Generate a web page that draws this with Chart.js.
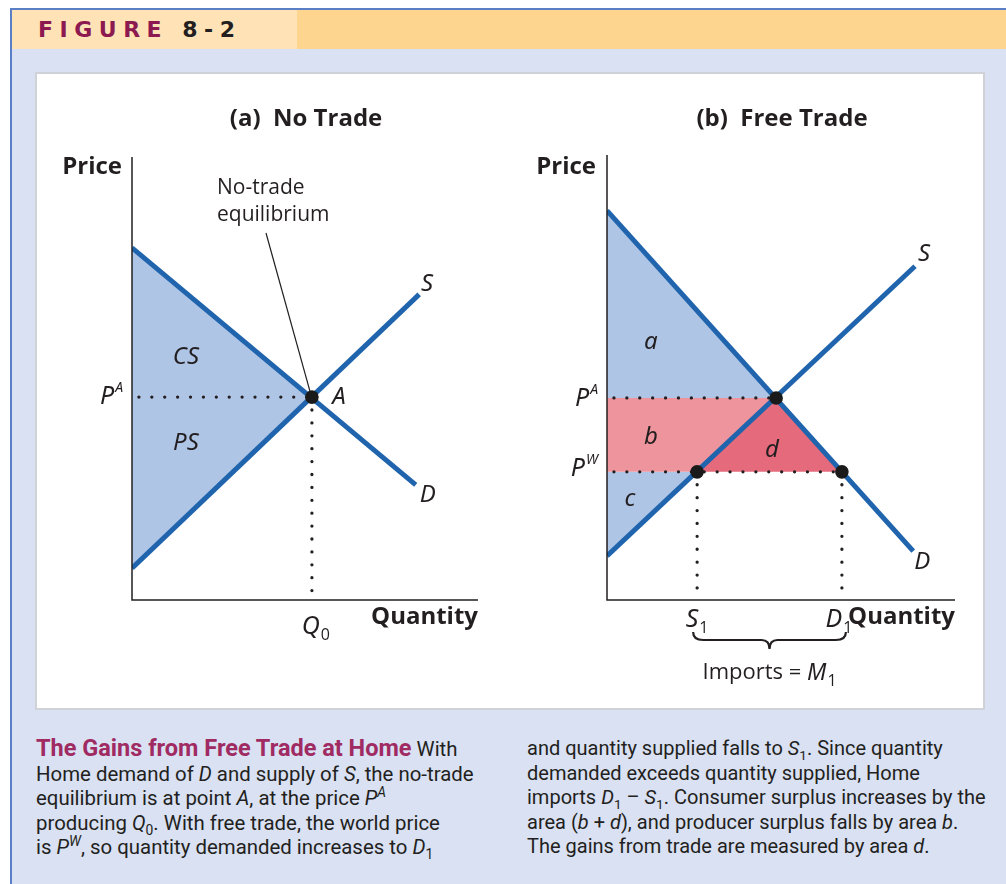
<!DOCTYPE html>
<html>
<head>
<meta charset="utf-8">
<script src="https://cdn.jsdelivr.net/npm/chart.js@4.4.1/dist/chart.umd.min.js"></script>
<style>
  body { margin: 0; width: 1006px; height: 884px; position: relative; overflow: hidden; background: #fff; font-family: Roboto, sans-serif; }
  #frame { position: absolute; left: 10px; top: 8px; width: 996px; height: 876px; background: #d9e1f3;
           border-left: 2px solid #5b7fc7; border-top: 2px solid #5b7fc7; box-sizing: border-box; }
  #head { position: absolute; left: 12px; top: 10px; width: 994px; height: 39px; background: #fdd58e; }
  #headL { position: absolute; left: 0; top: 0; width: 285px; height: 39px; background: #ffe3b7;
           font: bold 22px "DejaVu Sans", sans-serif; letter-spacing: 6.5px; line-height: 40px; padding-left: 26px; box-sizing: border-box; }
  #headL .fig { color: #8c1a50; }
  #headL .num { color: #231f20; }
  #panel { position: absolute; left: 35px; top: 72px; width: 950px; height: 638px; background: #fff;
           border: 2px solid #cfd3d8; box-sizing: border-box; }
  canvas { position: absolute; }
  #chartA { left: 36px; top: 73px; }
  #chartB { left: 506px; top: 73px; }
  .cap { position: absolute; top: 736px; font-size: 20.4px; line-height: 24.5px; color: #231f20; white-space: nowrap; }
  .cap b { color: #a02a62; font-size: 23.5px; }
  .cap sup, .cap sub { font-size: 0.68em; line-height: 0; }
</style>
</head>
<body>
<div id="frame"></div>
<div id="head"><div id="headL"><span class="fig">FIGURE</span> <span class="num">8-2</span></div></div>
<div id="panel"></div>
<canvas id="chartA" width="470" height="635"></canvas>
<canvas id="chartB" width="478" height="635"></canvas>

<div class="cap" style="left:36px">
<b>The Gains from Free Trade at Home</b> With<br>
Home demand of <i>D</i> and supply of <i>S</i>, the no-trade<br>
equilibrium is at point <i>A</i>, at the price <i>P<sup>A</sup></i><br>
producing <i>Q</i><sub>0</sub>. With free trade, the world price<br>
is <i>P<sup>W</sup></i>, so quantity demanded increases to <i>D</i><sub>1</sub>
</div>
<div class="cap" style="left:527px; font-size:20px">
and quantity supplied falls to <i>S</i><sub>1</sub>. Since quantity<br>
demanded exceeds quantity supplied, Home<br>
imports <i>D</i><sub>1</sub> – <i>S</i><sub>1</sub>. Consumer surplus increases by the<br>
area (<i>b</i> + <i>d</i>), and producer surplus falls by area <i>b</i>.<br>
The gains from trade are measured by area <i>d</i>.
</div>

<script>
// panel (a) no trade: curve end points and the equilibrium
const demandA = [{x: 0, y: 7.95}, {x: 8.2, y: 2.6}];
const supplyA = [{x: 0, y: 0.72}, {x: 8.3, y: 6.9}];
const eqA = {x: 5.2, y: 4.58};

// panel (b) free trade
const demandB = [{x: 0, y: 8.75}, {x: 8.8, y: 1.1}];
const supplyB = [{x: 0, y: 0.99}, {x: 8.85, y: 7.5}];
const priceAut = 4.54;   // P^A
const priceWorld = 2.88; // P^W
const qAut = 4.86;
const qS1 = 2.59;
const qD1 = 6.75;

const BLUE = '#1f64ad';
const INK = '#231f20';
const FONT = '"Open Sans", sans-serif';
const IFONT = '"Noto Sans", sans-serif';
const ITAL = 'italic 24px ' + IFONT;

const curve = (data) => ({
    data, borderColor: BLUE, borderWidth: 5, pointRadius: 0, borderCapStyle: 'butt', fill: false, order: 2
});
const area = (data, color) => ({
    data, borderWidth: 0, pointRadius: 0, backgroundColor: color, fill: 'shape', order: 4
});
const dotted = (data) => ({
    data, borderColor: INK, borderWidth: 3.3, borderDash: [0, 12.9], borderCapStyle: 'round',
    pointRadius: 0, fill: false, order: 3
});
const dots = (data) => ({
    data, showLine: false, pointRadius: 6.8, pointBackgroundColor: '#1a1a1a', pointBorderWidth: 0, order: 1
});

// text helpers
function txt(ctx, s, x, y, font, align) {
    ctx.font = font;
    ctx.textAlign = align || 'center';
    ctx.textBaseline = 'middle';
    ctx.fillText(s, x, y);
}
// base letter with a small raised (sup) or lowered (sub) part
function idx(ctx, base, small, x, y, sup, align) {
    const bf = 'italic 25px ' + IFONT;
    const sf = sup ? 'italic 14px ' + IFONT : '16px ' + FONT;
    ctx.font = bf; const bw = ctx.measureText(base).width;
    ctx.font = sf; const sw = ctx.measureText(small).width;
    const w = bw + sw + 1;
    let x0 = x - w / 2;
    if (align === 'right') x0 = x - w;
    if (align === 'left') x0 = x;
    txt(ctx, base, x0, y, bf, 'left');
    txt(ctx, small, x0 + bw + 1, sup ? y - 9 : y + 8, sf, 'left');
}
function axes(ctx, ca) {
    ctx.strokeStyle = INK;
    ctx.lineWidth = 1.5;
    ctx.beginPath();
    ctx.moveTo(ca.left, ca.top);
    ctx.lineTo(ca.left, ca.bottom);
    ctx.lineTo(ca.right, ca.bottom);
    ctx.stroke();
}

const labelsA = {
    id: 'labelsA',
    afterDraw(chart) {
        const { ctx, chartArea: ca, scales: { x, y } } = chart;
        ctx.save();
        axes(ctx, ca);
        ctx.fillStyle = INK;
        const bold = 'bold 24px ' + FONT;
        txt(ctx, '(a)  No Trade', ca.left + 174, ca.top - 38, bold);
        txt(ctx, 'Price', ca.left - 10, ca.top + 10, bold, 'right');
        txt(ctx, 'Quantity', ca.right, ca.bottom + 17, bold, 'right');

        const xA = x.getPixelForValue(eqA.x), yA = y.getPixelForValue(eqA.y);
        idx(ctx, 'P', 'A', ca.left - 9, yA, true, 'right');
        txt(ctx, 'A', xA + 27, yA, ITAL);
        idx(ctx, 'Q', '0', xA + 4, ca.bottom + 27, false);

        const s1 = supplyA[1], d1 = demandA[1];
        txt(ctx, 'S', x.getPixelForValue(s1.x) + 8, y.getPixelForValue(s1.y) - 10, ITAL);
        txt(ctx, 'D', x.getPixelForValue(d1.x) + 12, y.getPixelForValue(d1.y) + 10, ITAL);
        txt(ctx, 'CS', x.getPixelForValue(1.56), y.getPixelForValue(5.49), ITAL);
        txt(ctx, 'PS', x.getPixelForValue(1.56), y.getPixelForValue(3.54), ITAL);

        txt(ctx, 'No-trade', ca.left + 85, ca.top + 31, '21px ' + FONT, 'left');
        txt(ctx, 'equilibrium', ca.left + 85, ca.top + 58, '21px ' + FONT, 'left');
        ctx.strokeStyle = INK;
        ctx.lineWidth = 1.2;
        ctx.beginPath();
        ctx.moveTo(ca.left + 134, ca.top + 76);
        ctx.lineTo(xA - 2, yA - 6);
        ctx.stroke();
        ctx.restore();
    }
};

const labelsB = {
    id: 'labelsB',
    afterDraw(chart) {
        const { ctx, chartArea: ca, scales: { x, y } } = chart;
        ctx.save();
        axes(ctx, ca);
        ctx.fillStyle = INK;
        const bold = 'bold 24px ' + FONT;
        txt(ctx, '(b)  Free Trade', ca.left + 175, ca.top - 36, bold);
        txt(ctx, 'Price', ca.left - 11, ca.top + 12, bold, 'right');
        txt(ctx, 'Quantity', ca.right, ca.bottom + 17, bold, 'right');

        idx(ctx, 'P', 'A', ca.left - 9, y.getPixelForValue(priceAut) + 1, true, 'right');
        idx(ctx, 'P', 'W', ca.left - 9, y.getPixelForValue(priceWorld) - 3, true, 'right');

        const s1 = supplyB[1], d1 = demandB[1];
        txt(ctx, 'S', x.getPixelForValue(s1.x) + 9, y.getPixelForValue(s1.y) - 12, ITAL);
        txt(ctx, 'D', x.getPixelForValue(d1.x) + 9, y.getPixelForValue(d1.y) + 11, ITAL);
        txt(ctx, 'a', x.getPixelForValue(1.26), y.getPixelForValue(5.8), ITAL);
        txt(ctx, 'b', x.getPixelForValue(1.26), y.getPixelForValue(3.66), ITAL);
        txt(ctx, 'c', x.getPixelForValue(0.66), y.getPixelForValue(2.27), ITAL);
        txt(ctx, 'd', x.getPixelForValue(4.74), y.getPixelForValue(3.37), ITAL);

        const xs = x.getPixelForValue(qS1), xd = x.getPixelForValue(qD1);
        idx(ctx, 'S', '1', xs, ca.bottom + 20, false);
        idx(ctx, 'D', '1', xd - 3, ca.bottom + 20, false);

        // brace under S1..D1
        const l = xs - 4, r = xd + 4, m = (l + r) / 2, t = ca.bottom + 32, h = 8;
        ctx.strokeStyle = INK;
        ctx.lineWidth = 2.2;
        ctx.beginPath();
        ctx.moveTo(l, t);
        ctx.quadraticCurveTo(l, t + h, l + 10, t + h);
        ctx.lineTo(m - 8, t + h);
        ctx.quadraticCurveTo(m, t + h, m, t + h + 9);
        ctx.quadraticCurveTo(m, t + h, m + 8, t + h);
        ctx.lineTo(r - 10, t + h);
        ctx.quadraticCurveTo(r, t + h, r, t);
        ctx.stroke();

        ctx.font = '22px ' + FONT;
        const w1 = ctx.measureText('Imports = ').width;
        ctx.font = 'italic 23px ' + IFONT;
        const w2 = ctx.measureText('M').width;
        const x0 = m - (w1 + w2 + 10) / 2, ty = ca.bottom + 73;
        txt(ctx, 'Imports = ', x0, ty, '22px ' + FONT, 'left');
        txt(ctx, 'M', x0 + w1, ty, 'italic 23px ' + IFONT, 'left');
        txt(ctx, '1', x0 + w1 + w2 + 1, ty + 8, '16px ' + FONT, 'left');
        ctx.restore();
    }
};

const baseOptions = (padding) => ({
    responsive: false,
    animation: false,
    layout: { padding },
    scales: {
        x: { type: 'linear', min: 0, max: 10, display: false },
        y: { type: 'linear', min: 0, max: 10, display: false }
    },
    plugins: { legend: { display: false }, tooltip: { enabled: false } },
    elements: { line: { tension: 0 } }
});

new Chart(document.getElementById('chartA'), {
    type: 'line',
    data: {
        datasets: [
            dots([eqA]),
            curve(demandA),
            curve(supplyA),
            dotted([{x: 0.2, y: eqA.y}, {x: eqA.x, y: eqA.y}]),
            dotted([{x: eqA.x, y: eqA.y}, {x: eqA.x, y: 0}]),
            area([demandA[0], eqA, supplyA[0]], '#afc5e6')
        ]
    },
    options: baseOptions({ left: 96, top: 84, right: 28, bottom: 108 }),
    plugins: [labelsA]
});

const eqB = {x: qAut, y: priceAut};
const s1B = {x: qS1, y: priceWorld};
const d1B = {x: qD1, y: priceWorld};

new Chart(document.getElementById('chartB'), {
    type: 'line',
    data: {
        datasets: [
            dots([eqB, s1B, d1B]),
            curve(demandB),
            curve(supplyB),
            dotted([{x: 0.2, y: priceAut}, eqB]),
            dotted([{x: 0.2, y: priceWorld}, d1B]),
            dotted([s1B, {x: qS1, y: 0}]),
            dotted([d1B, {x: qD1, y: 0}]),
            area([demandB[0], eqB, {x: 0, y: priceAut}], '#afc5e6'),
            area([{x: 0, y: priceAut}, eqB, s1B, {x: 0, y: priceWorld}], '#ee949c'),
            area([eqB, s1B, d1B], '#e46a7c'),
            area([{x: 0, y: priceWorld}, s1B, supplyB[0]], '#afc5e6')
        ]
    },
    options: baseOptions({ left: 101, top: 82, right: 29, bottom: 108 }),
    plugins: [labelsB]
});
</script>
</body>
</html>
